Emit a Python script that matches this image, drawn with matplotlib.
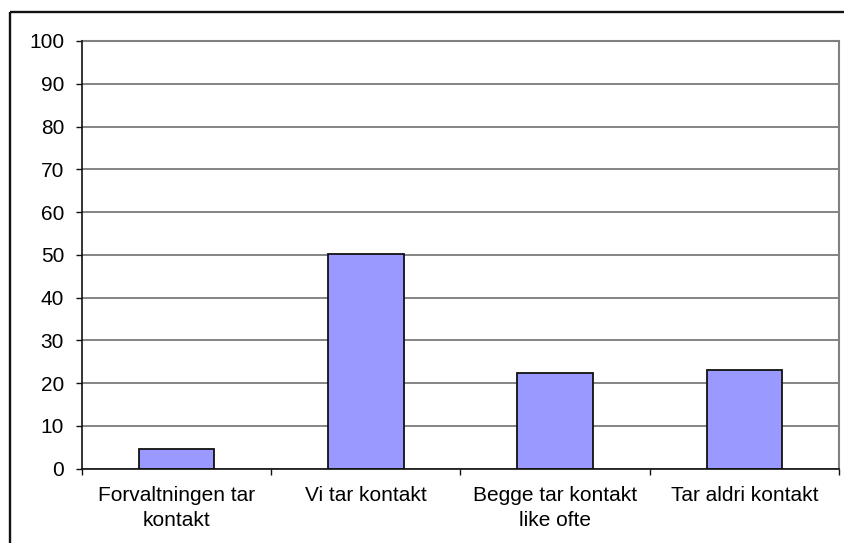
import matplotlib
matplotlib.use("Agg")
import matplotlib.pyplot as plt
from matplotlib.patches import Rectangle

categories = ["Forvaltningen tar\nkontakt", "Vi tar kontakt", "Begge tar kontakt\nlike ofte", "Tar aldri kontakt"]
values = [4.5, 50.3, 22.3, 23.0]
yticks = [0, 10, 20, 30, 40, 50, 60, 70, 80, 90, 100]

plt.rcParams['font.family'] = ['Liberation Sans', 'DejaVu Sans']

W, H = 845, 543
fig = plt.figure(figsize=(W/100, H/100), dpi=100)
fig.patch.set_facecolor('white')

# outer chart border
fig.add_artist(Rectangle((10/W, 1 - 12/H), 2, -2, transform=fig.transFigure,
                         fill=False, edgecolor='#111111', linewidth=1.7, clip_on=False))

left, right, top, bottom = 82, 839, 41, 468.7
ax = fig.add_axes([left/W, 1 - bottom/H, (right-left)/W, (bottom-top)/H])

x = list(range(len(categories)))
ax.bar(x, values, width=0.4, color='#9999FF', edgecolor='#111111', linewidth=1.3, zorder=3)
ax.set_xlim(-0.5, len(categories) - 0.5)
ax.set_ylim(0, 100)
ax.set_yticks(yticks)
ax.set_yticklabels([str(v) for v in yticks], fontsize=15)
ax.yaxis.grid(True, color='#707070', linewidth=1.2, zorder=0)

ax.set_xticks([i + 0.5 for i in range(-1, len(categories))], minor=False)
ax.set_xticklabels([])
ax.set_xticks(x, minor=True)
ax.set_xticklabels(categories, minor=True, fontsize=15, linespacing=1.4)
ax.tick_params(axis='x', which='minor', length=0, pad=12.5)
ax.tick_params(axis='x', which='major', length=4.3, width=1, color='#111111', direction='out')
ax.tick_params(axis='y', length=4.3, width=1, color='#111111', direction='out', pad=8.6)

for s in ['left', 'bottom']:
    ax.spines[s].set_color('#111111')
    ax.spines[s].set_linewidth(1.2)
for s in ['top', 'right']:
    ax.spines[s].set_color('#808080')
    ax.spines[s].set_linewidth(1.5)
ax.spines['left'].set_zorder(4)
ax.spines['bottom'].set_zorder(4)

fig.savefig('out.png', dpi=100)
